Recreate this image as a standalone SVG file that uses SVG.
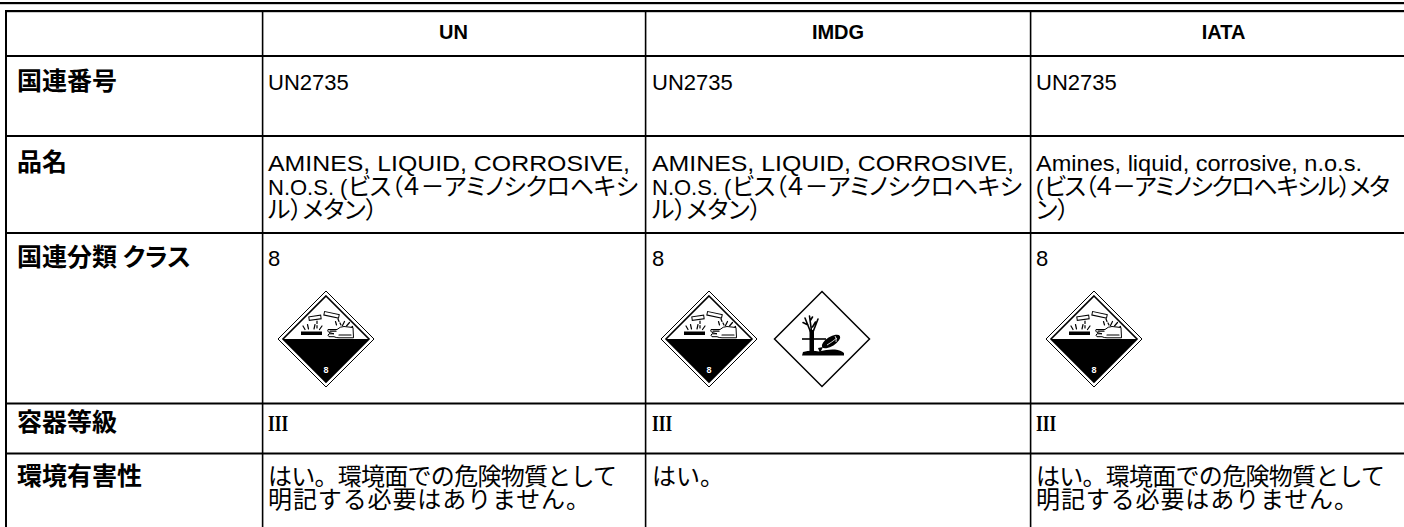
<svg xmlns="http://www.w3.org/2000/svg" width="1404" height="527" viewBox="0 0 1404 527">
<style>
.ln{fill:#000}
.lab{font-family:"Noto Sans CJK JP",sans-serif;font-weight:bold;font-size:25px;font-feature-settings:"palt" 1}
.jp{font-family:"Noto Sans CJK JP",sans-serif;font-size:24px;font-feature-settings:"palt" 1}
.jpf{font-family:"Noto Sans CJK JP",sans-serif;font-size:24px}
.lt{font-family:"Liberation Sans",Arial,sans-serif;font-size:22px}
.hd{font-family:"Liberation Sans",Arial,sans-serif;font-weight:bold;font-size:20px;text-anchor:middle}
.rn{font-family:"Liberation Serif","Times New Roman",serif;font-weight:bold;font-size:23px}
.thin{fill:none;stroke:#000;stroke-width:1.2;stroke-linecap:round}
</style>
<defs>
<g id="corr">
<polygon points="0,-48 48,0 0,48 -48,0" fill="#fff" stroke="#000" stroke-width="1"/>
<polygon points="0,-43 43,0 0,43 -43,0" fill="#fff" stroke="#000" stroke-width="1.6"/>
<polygon points="-43,0 43,0 0,43" fill="#000"/>
<text x="0" y="34" fill="#fff" text-anchor="middle" font-family="Liberation Sans,Arial,sans-serif" font-weight="bold" font-size="9">8</text>
<rect x="-25" y="-7.5" width="21" height="3.5" fill="#000"/>
<rect x="-17" y="-23" width="12" height="3.6" fill="#fff" stroke="#000" stroke-width="1" transform="rotate(-8 -11 -21)"/>
<rect x="-2" y="-26" width="15" height="3.6" fill="#fff" stroke="#000" stroke-width="1" transform="rotate(12 5.5 -24)"/>
<path class="thin" d="M-9,-18 V-15.5 M-9,-13.5 V-11 M-21,-9.5 L-23,-13 M-17.5,-10 L-18.5,-14.5 M-12,-10 L-11,-14.5 M-6.5,-9.5 L-4,-13"/>
<path class="thin" d="M12,-20 L13,-17.5 M14,-16 L15,-14 M10.5,-14 L9.5,-17.5 M16.5,-13.5 L18.5,-17.5 M20.5,-13 L23.5,-16.5 M23.5,-10 L26.5,-12.5"/>
<path d="M2,-9.5 L11,-9.5 Q14,-12.5 18,-12.5 L27,-11.5 L27.5,-1.2 L13,-1.2 Q10,-1.2 8,-2.3 L3,-2.3 Q1,-3.8 3,-5.2 L8,-5.2 L3,-6.5 Q1,-8 2,-9.5 Z" fill="#fff" stroke="#000" stroke-width="1"/>
<path class="thin" d="M4,-7.8 H10 M13,-4 H25" stroke-width="0.8"/>
</g>
<g id="env">
<polygon points="0,-47.5 47.5,0 0,47.5 -47.5,0" fill="#fff" stroke="#000" stroke-width="1.5"/>
<rect x="-12.5" y="-9" width="4.5" height="23" fill="#000"/>
<path d="M-11,-6 L-17,-21 M-10.5,-8 L-12.5,-23 M-9,-7 L-4,-20 M-9.5,-12 L-6.5,-17 M-14,-14 L-19,-16.5 M-12,-18 L-9.5,-22" fill="none" stroke="#000" stroke-width="1.6" stroke-linecap="round"/>
<path d="M-20,0 H4" stroke="#000" stroke-width="1.6"/>
<ellipse cx="9" cy="2.5" rx="10.5" ry="4.6" fill="#000" transform="rotate(-32 9 2.5)"/>
<path d="M1,8 L-4,9 L-2,14 Z" fill="#000"/>
<path d="M13,-3 Q15,0 14,3 M5,6 Q10,3 15,-1" fill="none" stroke="#fff" stroke-width="0.8"/>
<path d="M-20,16.5 L-19,13 Q-11,11 -3,12.5 Q6,10 13,10.5 Q19,11 22,14 L22,16.5 Z" fill="#000"/>
</g>
</defs>
<rect width="1404" height="527" fill="#fff"/>
<g id="connectors">
<rect class="ln" x="0" y="2" width="1404" height="2.2"/>
<rect class="ln" x="5" y="10" width="1399" height="2.2"/>
<rect class="ln" x="5" y="55" width="1399" height="2"/>
<rect class="ln" x="5" y="135" width="1399" height="2"/>
<rect class="ln" x="5" y="232" width="1399" height="2"/>
<rect class="ln" x="5" y="402.5" width="1399" height="2"/>
<rect class="ln" x="5" y="452.5" width="1399" height="2"/>
<rect class="ln" x="5" y="10" width="2" height="517"/>
<rect class="ln" x="261.8" y="10" width="1.6" height="517"/>
<rect class="ln" x="644.8" y="10" width="1.6" height="517"/>
<rect class="ln" x="1029.8" y="10" width="1.6" height="517"/>
</g>
<g id="header">
<text class="hd" x="453.5" y="39">UN</text>
<text class="hd" x="838" y="39">IMDG</text>
<text class="hd" x="1223.5" y="39">IATA</text>
</g>
<g id="row-un-number">
<text class="lab" x="17" y="90">国連番号</text>
<text class="lt" x="268" y="90">UN2735</text>
<text class="lt" x="652" y="90">UN2735</text>
<text class="lt" x="1036" y="90">UN2735</text>
</g>
<g id="row-name">
<text class="lab" x="17" y="171">品名</text>
<text class="lt" x="268" y="171" textLength="362" lengthAdjust="spacingAndGlyphs">AMINES, LIQUID, CORROSIVE,</text>
<text class="lt" x="268" y="194.5">N.O.S. (</text>
<text class="jp" x="348" y="194.5" textLength="290" lengthAdjust="spacing">ビス（４－アミノシクロヘキシ</text>
<text class="jp" x="268" y="218">ル）メタン）</text>
<text class="lt" x="652" y="171" textLength="362" lengthAdjust="spacingAndGlyphs">AMINES, LIQUID, CORROSIVE,</text>
<text class="lt" x="652" y="194.5">N.O.S. (</text>
<text class="jp" x="732" y="194.5" textLength="290" lengthAdjust="spacing">ビス（４－アミノシクロヘキシ</text>
<text class="jp" x="652" y="218">ル）メタン）</text>
<text class="lt" x="1036" y="171" textLength="326" lengthAdjust="spacingAndGlyphs">Amines, liquid, corrosive, n.o.s.</text>
<text class="lt" x="1036" y="194.5">(</text>
<text class="jp" x="1044" y="194.5" textLength="346" lengthAdjust="spacing">ビス（４－アミノシクロヘキシル）メタ</text>
<text class="jp" x="1036" y="218">ン）</text>
</g>
<g id="row-class">
<text class="lab" x="17" y="266">国連分類 クラス</text>
<text class="lt" x="268" y="266">8</text>
<text class="lt" x="652" y="266">8</text>
<text class="lt" x="1036" y="266">8</text>
<use href="#corr" x="326" y="339"/>
<use href="#corr" x="709" y="339"/>
<use href="#env" x="822" y="339"/>
<use href="#corr" x="1094" y="339"/>
</g>
<g id="row-packing">
<text class="lab" x="17" y="431">容器等級</text>
<text class="rn" transform="translate(268,431) scale(0.75,1)">III</text>
<text class="rn" transform="translate(652,431) scale(0.75,1)">III</text>
<text class="rn" transform="translate(1036,431) scale(0.75,1)">III</text>
</g>
<g id="row-env">
<text class="lab" x="17" y="485">環境有害性</text>
<text class="jpf" x="268" y="485" textLength="349" lengthAdjust="spacing">はい。環境面での危険物質として</text>
<text class="jpf" x="268" y="508" textLength="322" lengthAdjust="spacing">明記する必要はありません。</text>
<text class="jpf" x="652" y="485">はい。</text>
<text class="jpf" x="1036" y="485" textLength="349" lengthAdjust="spacing">はい。環境面での危険物質として</text>
<text class="jpf" x="1036" y="508" textLength="322" lengthAdjust="spacing">明記する必要はありません。</text>
</g>
</svg>
